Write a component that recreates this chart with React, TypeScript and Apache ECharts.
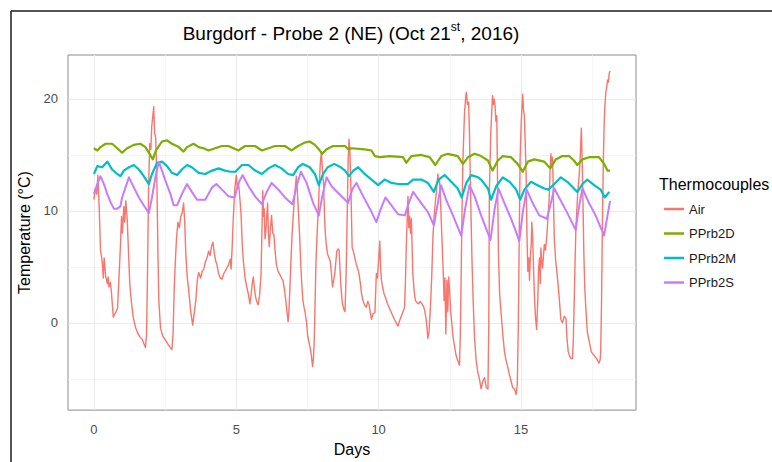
import React, { useEffect, useRef } from "react";
import * as echarts from "echarts";

const FONT = '"Liberation Sans", Arial, Helvetica, sans-serif';

const seriesNames = ["Air", "PPrb2D", "PPrb2M", "PPrb2S"];
const seriesColors = ["#F8766D", "#7CAE00", "#00BFC4", "#C77CFF"];

const xTicks = [0, 5, 10, 15];
const xMinor = [2.5, 7.5, 12.5, 17.5];
const yTicks = [0, 10, 20];
const yMinor = [-5, 5, 15];

const airData: [number, number][] = [
  [0.0, 11.0], [0.05, 12.0], [0.1, 11.5], [0.14, 13.2], [0.19, 10.0], [0.23, 6.5], [0.29, 5.5], [0.33, 4.0],
  [0.36, 5.8], [0.41, 4.2], [0.47, 3.5], [0.5, 4.1], [0.53, 3.2], [0.58, 3.6], [0.62, 2.6], [0.68, 0.5],
  [0.73, 0.8], [0.78, 1.0], [0.83, 1.3], [0.88, 4.0], [0.93, 6.8], [0.97, 9.5], [1.0, 8.0], [1.05, 10.4],
  [1.08, 9.0], [1.12, 10.9], [1.17, 9.2], [1.22, 6.0], [1.26, 3.5], [1.31, 2.0], [1.38, 0.5], [1.46, -0.4],
  [1.55, -1.0], [1.63, -1.3], [1.7, -1.5], [1.76, -1.9], [1.81, -2.2], [1.85, -1.0], [1.88, 4.0], [1.92, 12.0],
  [1.96, 16.0], [2.0, 15.5], [2.03, 17.5], [2.07, 18.5], [2.1, 19.3], [2.13, 17.0], [2.17, 16.5], [2.21, 13.0],
  [2.25, 6.0], [2.28, 2.0], [2.34, -0.5], [2.42, -1.2], [2.5, -1.5], [2.6, -1.9], [2.68, -2.2], [2.74, -2.4],
  [2.78, -1.0], [2.82, 3.0], [2.86, 5.5], [2.9, 7.5], [2.95, 9.0], [3.0, 8.5], [3.05, 9.5], [3.1, 9.8],
  [3.15, 10.7], [3.19, 9.0], [3.23, 6.0], [3.28, 4.0], [3.33, 2.9], [3.4, 1.0], [3.47, -0.2], [3.52, 0.8],
  [3.58, 2.0], [3.63, 3.8], [3.68, 4.5], [3.75, 4.0], [3.8, 4.6], [3.86, 4.8], [3.92, 5.5], [3.97, 5.8],
  [4.03, 6.4], [4.08, 6.0], [4.13, 6.8], [4.18, 7.2], [4.23, 6.2], [4.28, 5.5], [4.32, 5.2], [4.38, 4.4],
  [4.44, 4.0], [4.5, 3.9], [4.56, 4.4], [4.61, 4.6], [4.67, 4.9], [4.73, 5.2], [4.79, 5.7], [4.82, 4.8],
  [4.86, 7.0], [4.9, 9.6], [4.95, 12.0], [5.0, 13.2], [5.04, 12.0], [5.08, 12.5], [5.13, 11.0], [5.17, 9.6],
  [5.21, 7.0], [5.25, 5.5], [5.31, 4.0], [5.37, 3.2], [5.43, 2.5], [5.48, 1.7], [5.52, 2.5], [5.56, 3.5],
  [5.6, 4.1], [5.64, 3.0], [5.68, 2.3], [5.72, 1.9], [5.77, 1.6], [5.82, 2.5], [5.87, 4.3], [5.9, 8.0],
  [5.93, 11.8], [5.96, 9.5], [5.98, 10.2], [6.01, 7.5], [6.04, 8.2], [6.07, 9.5], [6.1, 10.7], [6.13, 8.0],
  [6.16, 6.8], [6.2, 8.5], [6.24, 9.6], [6.28, 8.0], [6.32, 7.9], [6.36, 6.5], [6.41, 5.2], [6.47, 4.6],
  [6.53, 4.3], [6.59, 4.0], [6.64, 3.8], [6.69, 3.0], [6.74, 2.0], [6.78, 1.0], [6.82, 0.1], [6.85, 1.0],
  [6.88, 2.9], [6.92, 5.5], [6.96, 7.9], [7.0, 9.5], [7.03, 10.7], [7.07, 12.0], [7.11, 13.1], [7.15, 11.5],
  [7.19, 9.6], [7.23, 7.5], [7.26, 5.5], [7.3, 3.5], [7.34, 2.0], [7.38, 1.4], [7.42, 0.9], [7.47, 0.0],
  [7.51, -1.2], [7.56, -1.8], [7.6, -2.3], [7.64, -3.0], [7.68, -3.9], [7.71, -3.2], [7.74, -1.5], [7.77, 2.0],
  [7.8, 5.5], [7.84, 8.0], [7.88, 10.2], [7.92, 12.5], [7.95, 14.2], [7.99, 15.3], [8.03, 13.5], [8.07, 12.2],
  [8.1, 9.5], [8.13, 7.9], [8.17, 6.8], [8.21, 6.1], [8.26, 5.8], [8.3, 5.5], [8.34, 4.5], [8.38, 3.2],
  [8.42, 3.8], [8.46, 4.4], [8.5, 5.5], [8.53, 6.4], [8.58, 6.6], [8.61, 6.5], [8.64, 5.0], [8.67, 3.5],
  [8.7, 2.5], [8.73, 1.7], [8.78, 1.2], [8.82, 1.0], [8.86, 4.5], [8.9, 10.0], [8.93, 14.5], [8.96, 16.4],
  [8.99, 15.5], [9.03, 11.6], [9.07, 6.7], [9.1, 6.5], [9.14, 6.1], [9.18, 5.6], [9.22, 5.2], [9.27, 4.8],
  [9.31, 4.4], [9.36, 3.5], [9.4, 2.6], [9.45, 2.0], [9.49, 1.7], [9.53, 1.5], [9.57, 1.4], [9.62, 1.9],
  [9.66, 1.7], [9.7, 1.0], [9.75, 0.3], [9.8, 0.8], [9.87, 0.9], [9.92, 4.4], [9.96, 4.0], [9.98, 4.9],
  [10.01, 6.0], [10.04, 7.3], [10.07, 5.0], [10.1, 3.8], [10.14, 3.2], [10.19, 2.6], [10.25, 2.2], [10.31, 1.7],
  [10.38, 1.3], [10.45, 0.9], [10.5, 0.6], [10.56, 0.3], [10.62, 0.0], [10.68, -0.3], [10.74, 0.2], [10.8, 0.6],
  [10.86, 1.0], [10.91, 1.4], [10.94, 3.5], [10.97, 6.7], [11.0, 9.0], [11.03, 11.3], [11.06, 8.5], [11.09, 9.5],
  [11.12, 8.0], [11.15, 9.3], [11.18, 6.5], [11.2, 4.4], [11.25, 2.8], [11.29, 2.0], [11.35, 1.8], [11.4, 1.7],
  [11.46, 1.9], [11.52, 1.7], [11.57, 1.5], [11.61, 1.2], [11.66, 0.5], [11.7, -0.5], [11.73, -1.4], [11.77, -0.8],
  [11.82, 1.4], [11.87, 4.5], [11.91, 7.8], [11.95, 9.5], [11.99, 10.7], [12.04, 12.0], [12.08, 13.3], [12.11, 12.6],
  [12.14, 12.8], [12.18, 10.5], [12.22, 7.8], [12.27, 4.5], [12.3, 2.0], [12.33, 4.0], [12.36, -1.0], [12.4, 3.8],
  [12.43, 1.0], [12.46, 4.1], [12.5, 2.5], [12.53, 1.0], [12.57, 0.0], [12.61, -1.2], [12.66, -2.0], [12.72, -2.9],
  [12.78, -3.4], [12.84, -3.8], [12.87, -1.0], [12.9, 4.4], [12.93, 10.0], [12.96, 14.5], [13.0, 17.5], [13.02, 18.9],
  [13.06, 20.2], [13.08, 20.6], [13.12, 19.5], [13.16, 19.7], [13.19, 17.0], [13.22, 13.0], [13.25, 9.0], [13.28, 5.5],
  [13.32, 2.0], [13.37, -1.4], [13.43, -3.5], [13.49, -4.5], [13.54, -5.0], [13.6, -5.9], [13.66, -5.2], [13.72, -4.9],
  [13.78, -5.8], [13.84, -5.9], [13.87, 0.0], [13.89, 11.9], [13.94, 17.0], [14.0, 20.3], [14.03, 19.5], [14.06, 20.0],
  [14.09, 19.4], [14.12, 18.0], [14.15, 18.5], [14.18, 12.0], [14.21, 6.1], [14.25, 2.6], [14.3, 0.9], [14.36, -1.0],
  [14.42, -2.6], [14.48, -3.4], [14.54, -4.0], [14.6, -4.7], [14.65, -5.2], [14.71, -5.8], [14.77, -5.9], [14.83, -6.4],
  [14.87, -5.5], [14.91, 0.3], [14.94, 8.0], [14.97, 14.8], [15.01, 18.0], [15.06, 20.4], [15.09, 19.0], [15.12, 18.5],
  [15.15, 16.0], [15.18, 13.3], [15.21, 8.0], [15.24, 4.6], [15.27, 5.8], [15.3, 3.8], [15.33, 6.0], [15.36, 7.0],
  [15.38, 9.0], [15.41, 7.6], [15.44, 5.0], [15.47, 2.6], [15.51, 0.5], [15.55, -0.6], [15.59, 2.0], [15.62, 4.9],
  [15.65, 5.8], [15.68, 3.5], [15.7, 6.7], [15.73, 5.5], [15.76, 4.9], [15.79, 6.0], [15.82, 7.0], [15.86, 6.5],
  [15.91, 7.8], [15.95, 9.5], [15.99, 11.0], [16.02, 13.5], [16.05, 15.1], [16.08, 14.0], [16.11, 14.8], [16.14, 11.0],
  [16.17, 7.6], [16.22, 5.5], [16.26, 4.6], [16.3, 3.5], [16.35, 2.0], [16.4, 0.3], [16.46, 0.0], [16.52, 0.6],
  [16.58, 0.4], [16.62, -1.5], [16.66, -2.6], [16.71, -3.0], [16.76, -3.2], [16.81, -3.2], [16.84, -1.5], [16.87, 2.0],
  [16.9, 5.5], [16.93, 8.5], [16.97, 10.5], [17.0, 11.9], [17.04, 13.0], [17.07, 14.2], [17.1, 16.0], [17.12, 17.4],
  [17.15, 14.5], [17.18, 10.4], [17.21, 6.0], [17.24, 3.2], [17.28, 1.2], [17.33, -0.8], [17.4, -1.7], [17.47, -2.6],
  [17.53, -2.8], [17.57, -2.9], [17.62, -3.1], [17.66, -3.2], [17.7, -3.4], [17.74, -3.6], [17.78, -3.3], [17.8, -2.6],
  [17.83, 2.0], [17.86, 8.9], [17.89, 14.0], [17.92, 17.7], [17.95, 19.5], [17.98, 20.6], [18.01, 21.0], [18.04, 21.7],
  [18.07, 21.5], [18.1, 22.3], [18.13, 22.5],
];

const deepData: [number, number][] = [
  [0.0, 15.6], [0.12, 15.4], [0.23, 15.7], [0.41, 16.0], [0.64, 16.0], [0.82, 15.6], [0.99, 15.2], [1.17, 15.6],
  [1.4, 15.9], [1.63, 16.0], [1.81, 15.7], [1.98, 15.0], [2.07, 14.6], [2.18, 15.4], [2.39, 16.2], [2.57, 16.3],
  [2.74, 16.0], [2.98, 15.7], [3.15, 15.3], [3.27, 15.7], [3.5, 16.0], [3.68, 15.7], [3.85, 15.6], [4.03, 15.4],
  [4.26, 15.6], [4.5, 15.8], [4.73, 15.8], [4.9, 15.6], [5.08, 15.4], [5.31, 15.8], [5.66, 15.8], [5.9, 15.4],
  [6.13, 15.6], [6.36, 15.8], [6.71, 15.8], [6.94, 15.4], [7.17, 15.8], [7.4, 16.1], [7.58, 16.2], [7.76, 15.9],
  [7.9, 15.5], [8.02, 15.1], [8.17, 15.5], [8.4, 15.8], [8.67, 15.8], [8.82, 15.8], [8.93, 15.5], [9.05, 15.6],
  [9.51, 15.5], [9.75, 15.4], [9.87, 14.9], [10.04, 14.8], [10.39, 14.9], [10.86, 14.8], [10.97, 14.3], [11.15, 14.9],
  [11.5, 15.0], [11.79, 14.8], [11.99, 14.1], [12.2, 14.9], [12.43, 15.1], [12.78, 14.9], [12.96, 14.2], [13.14, 14.8],
  [13.37, 15.1], [13.6, 14.9], [13.84, 14.5], [14.0, 13.6], [14.19, 14.5], [14.36, 14.9], [14.65, 14.8], [14.88, 14.2],
  [15.06, 13.5], [15.24, 14.4], [15.47, 14.6], [15.82, 14.4], [16.03, 13.8], [16.22, 14.6], [16.45, 14.9], [16.69, 14.9],
  [16.86, 14.5], [16.98, 14.1], [17.16, 14.6], [17.39, 14.8], [17.74, 14.8], [17.92, 14.2], [18.04, 13.6], [18.13, 13.6],
];

const midData: [number, number][] = [
  [0.0, 13.3], [0.12, 14.0], [0.29, 13.9], [0.47, 14.4], [0.64, 13.7], [0.82, 13.3], [0.93, 13.1], [1.05, 13.6],
  [1.23, 13.9], [1.4, 14.1], [1.58, 13.7], [1.75, 13.1], [1.93, 12.4], [2.04, 13.3], [2.22, 14.3], [2.39, 14.4],
  [2.57, 14.0], [2.74, 13.4], [2.92, 13.2], [3.09, 13.7], [3.27, 14.1], [3.44, 13.9], [3.68, 13.4], [3.91, 13.3],
  [4.15, 13.6], [4.38, 13.8], [4.6, 13.6], [4.8, 13.5], [4.97, 13.5], [5.2, 14.1], [5.43, 14.1], [5.66, 13.6],
  [5.9, 13.3], [6.13, 13.8], [6.36, 14.1], [6.59, 13.8], [6.82, 13.3], [7.0, 13.2], [7.17, 13.9], [7.34, 14.2],
  [7.58, 13.9], [7.76, 13.3], [7.9, 12.3], [8.05, 13.3], [8.21, 13.9], [8.44, 14.2], [8.67, 13.9], [8.82, 13.6],
  [8.96, 13.1], [9.11, 13.6], [9.28, 13.9], [9.51, 13.3], [9.75, 12.8], [9.98, 12.3], [10.21, 12.8], [10.45, 12.5],
  [10.68, 12.4], [11.03, 12.4], [11.21, 12.8], [11.5, 12.8], [11.73, 12.5], [11.94, 11.7], [12.1, 12.8], [12.32, 13.2],
  [12.55, 12.6], [12.78, 12.0], [12.92, 11.2], [13.08, 12.5], [13.25, 13.2], [13.49, 13.0], [13.6, 12.8], [13.84, 12.0],
  [13.95, 11.0], [14.13, 12.2], [14.36, 13.0], [14.6, 12.6], [14.83, 11.9], [14.97, 11.0], [15.12, 11.9], [15.35, 12.6],
  [15.58, 12.3], [15.82, 12.0], [15.96, 11.9], [16.17, 12.4], [16.4, 13.0], [16.63, 12.6], [16.86, 12.0], [16.98, 11.7],
  [17.16, 12.4], [17.33, 12.8], [17.57, 12.3], [17.8, 11.9], [17.94, 11.2], [18.1, 11.7],
];

const shallowData: [number, number][] = [
  [0.0, 11.5], [0.12, 12.4], [0.23, 13.1], [0.35, 12.4], [0.47, 11.5], [0.58, 10.8], [0.7, 10.2], [0.82, 10.2],
  [0.93, 10.4], [0.99, 11.2], [1.11, 12.1], [1.23, 13.0], [1.4, 12.1], [1.58, 11.2], [1.75, 10.5], [1.93, 9.8],
  [2.04, 11.2], [2.16, 13.0], [2.28, 14.4], [2.39, 13.6], [2.51, 12.7], [2.69, 11.5], [2.8, 10.5], [2.92, 10.5],
  [3.09, 11.5], [3.27, 12.4], [3.44, 11.7], [3.62, 11.0], [3.91, 11.0], [4.15, 12.1], [4.3, 12.4], [4.5, 11.9],
  [4.73, 11.3], [4.94, 11.2], [5.08, 12.5], [5.22, 13.2], [5.43, 12.2], [5.66, 11.3], [5.9, 10.6], [6.07, 11.7],
  [6.24, 12.5], [6.48, 11.9], [6.71, 11.2], [6.97, 10.6], [7.12, 12.2], [7.27, 13.5], [7.47, 12.5], [7.7, 10.7],
  [7.9, 9.6], [8.02, 11.3], [8.17, 13.0], [8.35, 12.2], [8.58, 11.6], [8.82, 11.0], [8.93, 10.7], [9.07, 11.9],
  [9.22, 12.5], [9.46, 11.3], [9.69, 10.2], [9.92, 9.0], [10.08, 10.2], [10.24, 11.2], [10.45, 10.5], [10.68, 9.7],
  [10.92, 9.6], [11.06, 10.7], [11.21, 11.7], [11.44, 10.9], [11.73, 9.9], [11.94, 8.7], [12.08, 10.7], [12.19, 12.3],
  [12.37, 11.0], [12.61, 9.6], [12.9, 7.8], [13.04, 10.2], [13.19, 12.3], [13.37, 11.3], [13.6, 9.6], [13.78, 8.4],
  [13.93, 7.4], [14.07, 10.1], [14.21, 12.0], [14.42, 10.7], [14.65, 9.3], [14.83, 8.1], [14.94, 7.3], [15.06, 9.8],
  [15.2, 11.9], [15.41, 10.7], [15.64, 9.6], [15.91, 9.3], [16.05, 10.7], [16.17, 12.0], [16.38, 11.0], [16.63, 9.8],
  [16.92, 8.3], [17.04, 10.4], [17.16, 12.0], [17.39, 10.7], [17.62, 9.6], [17.92, 7.8], [18.04, 9.6], [18.13, 10.9],
];

const allData = [airData, deepData, midData, shallowData];
const lineWidths = [1.4, 2.2, 2.2, 2.0];

export default function App() {
  const ref = useRef<HTMLDivElement>(null);

  useEffect(() => {
    if (!ref.current) return;
    const chart = echarts.init(ref.current, undefined, { renderer: "svg" });

    const majorStyle = { color: "#EBEBEB", width: 1.2, type: "solid" };
    const minorStyle = { color: "#F3F3F3", width: 0.8, type: "solid" };
    const gridLines = [
      ...xMinor.map((v) => ({ xAxis: v, lineStyle: minorStyle })),
      ...yMinor.map((v) => ({ yAxis: v, lineStyle: minorStyle })),
      ...xTicks.map((v) => ({ xAxis: v, lineStyle: majorStyle })),
      ...yTicks.map((v) => ({ yAxis: v, lineStyle: majorStyle })),
    ];

    const dataSeries = seriesNames.map((name, i) => ({
      name,
      type: "line",
      data: allData[i],
      symbol: "none",
      showSymbol: false,
      z: 3,
      lineStyle: { color: seriesColors[i], width: lineWidths[i], join: "round" },
      itemStyle: { color: seriesColors[i] },
    }));

    const option: any = {
      animation: false,
      backgroundColor: "#ffffff",
      textStyle: { fontFamily: FONT },
      title: [
        {
          text: "{a|Burgdorf - Probe 2 (NE) (Oct 21}{s|st}{a|, 2016)}",
          left: 346,
          top: 16,
          textAlign: "center",
          textStyle: {
            rich: {
              a: { fontSize: 19, fontFamily: FONT, color: "#000", lineHeight: 24, fontWeight: "normal" },
              s: { fontSize: 12, fontFamily: FONT, color: "#000", lineHeight: 12, verticalAlign: "top", fontWeight: "normal" },
            },
          },
        },
        {
          text: "Thermocouples",
          left: 659,
          top: 176,
          padding: 0,
          textStyle: { fontSize: 16, fontWeight: "normal", fontFamily: FONT, color: "#000" },
        },
      ],
      legend: {
        data: seriesNames,
        orient: "vertical",
        left: 664,
        top: 201,
        icon: "rect",
        itemWidth: 20,
        itemHeight: 2.5,
        itemGap: 8.5,
        padding: 0,
        textStyle: { fontSize: 13, lineHeight: 16, color: "#1a1a1a", fontFamily: FONT },
      },
      grid: {
        left: 68,
        right: 136,
        top: 55,
        bottom: 43,
        show: true,
        backgroundColor: "#ffffff",
        borderColor: "#8c8c8c",
        borderWidth: 1,
      },
      xAxis: {
        type: "value",
        min: -0.91,
        max: 19.04,
        axisLine: { show: false },
        splitLine: { show: false },
        axisTick: { show: true, customValues: xTicks, length: 4, lineStyle: { color: "#444" } },
        axisLabel: { customValues: xTicks, color: "#4d4d4d", fontSize: 13, margin: 13, fontFamily: FONT },
        name: "Days",
        nameLocation: "middle",
        nameGap: 25,
        nameTextStyle: { fontSize: 16, color: "#000", fontFamily: FONT },
      },
      yAxis: {
        type: "value",
        min: -7.8,
        max: 23.93,
        axisLine: { show: false },
        splitLine: { show: false },
        axisTick: { show: true, customValues: yTicks, length: 4, lineStyle: { color: "#444" } },
        axisLabel: { customValues: yTicks, color: "#4d4d4d", fontSize: 13, margin: 10, fontFamily: FONT },
        name: "Temperature (°C)",
        nameLocation: "middle",
        nameGap: 27,
        nameTextStyle: { fontSize: 16, color: "#000", fontFamily: FONT },
      },
      graphic: [
        { type: "line", shape: { x1: 11, y1: 11, x2: 772, y2: 11 }, style: { stroke: "#1a1a1a", lineWidth: 1.5 } },
        { type: "line", shape: { x1: 11, y1: 11, x2: 11, y2: 462 }, style: { stroke: "#1a1a1a", lineWidth: 1.5 } },
      ],
      series: [
        {
          name: "grid",
          type: "line",
          data: [[-0.5, 0]],
          symbol: "none",
          lineStyle: { width: 0, opacity: 0 },
          z: 1,
          silent: true,
          markLine: {
            silent: true,
            symbol: ["none", "none"],
            label: { show: false },
            z: 1,
            data: gridLines,
          },
        },
        ...dataSeries,
      ],
    };

    chart.setOption(option);
    return () => chart.dispose();
  }, []);

  return (
    <div
      ref={ref}
      style={{ position: "fixed", left: 0, top: 0, width: 772, height: 462, background: "#fff" }}
    />
  );
}
